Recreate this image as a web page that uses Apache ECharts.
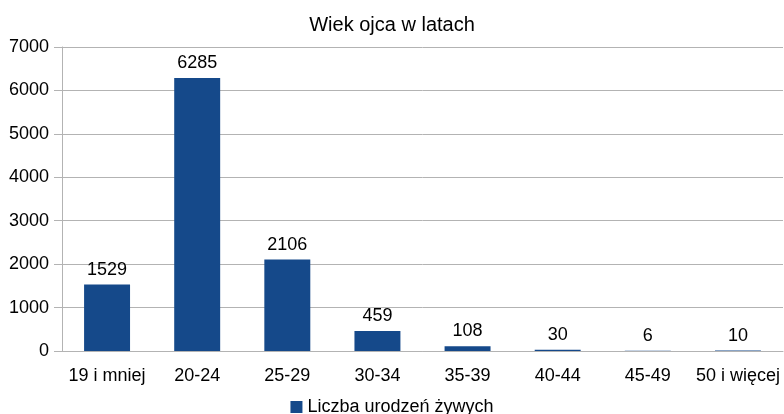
<!DOCTYPE html>
<html>
<head>
<meta charset="utf-8">
<script src="https://cdn.jsdelivr.net/npm/echarts@6/dist/echarts.min.js"></script>
<style>
  html, body { margin: 0; padding: 0; background: #fff; }
  #chart { width: 784px; height: 414px; }
</style>
</head>
<body>
<div id="chart"></div>
<script>
var categories = ['19 i mniej', '20-24', '25-29', '30-34', '35-39', '40-44', '45-49', '50 i więcej'];
var births = [1529, 6285, 2106, 459, 108, 30, 6, 10];
var seriesName = 'Liczba urodzeń żywych';
var titleText = 'Wiek ojca w latach';

var font = 'Liberation Sans, Arial, sans-serif';
var myChart = echarts.init(document.getElementById('chart'));

var option = {
    animation: false,
    title: {
        text: titleText,
        left: 'center',
        top: 10,
        textStyle: { fontFamily: font, fontSize: 20, fontWeight: 'normal', color: '#000' }
    },
    grid: {
        left: 62,
        right: 1,
        top: 47,
        bottom: 63,
        containLabel: false
    },
    legend: {
        bottom: -7,
        left: 'center',
        itemWidth: 12,
        itemHeight: 12,
        itemGap: 6,
        icon: 'rect',
        textStyle: { fontFamily: font, fontSize: 18, color: '#000' },
        data: [seriesName]
    },
    xAxis: {
        type: 'category',
        data: categories,
        axisLine: { lineStyle: { color: '#b3b3b3', width: 1 } },
        axisTick: { alignWithLabel: false, length: 8, lineStyle: { color: '#b3b3b3' } },
        axisLabel: { fontFamily: font, fontSize: 18, color: '#000', margin: 16, interval: 0 }
    },
    yAxis: {
        type: 'value',
        min: 0,
        max: 7000,
        interval: 1000,
        axisLine: { show: true, lineStyle: { color: '#b3b3b3', width: 1 } },
        axisTick: { show: true, length: 8, lineStyle: { color: '#b3b3b3' } },
        splitLine: { lineStyle: { color: '#b3b3b3', width: 1 } },
        axisLabel: {
            fontFamily: font, fontSize: 18, color: '#000', margin: 13,
            formatter: function (v) { return String(v); }
        }
    },
    series: [
        {
            name: seriesName,
            type: 'bar',
            data: births,
            barWidth: '51%',
            itemStyle: { color: '#15498a' },
            label: {
                show: true,
                position: 'top',
                distance: 6,
                fontFamily: font,
                fontSize: 18,
                color: '#000'
            }
        }
    ]
};

myChart.setOption(option);
</script>
</body>
</html>
